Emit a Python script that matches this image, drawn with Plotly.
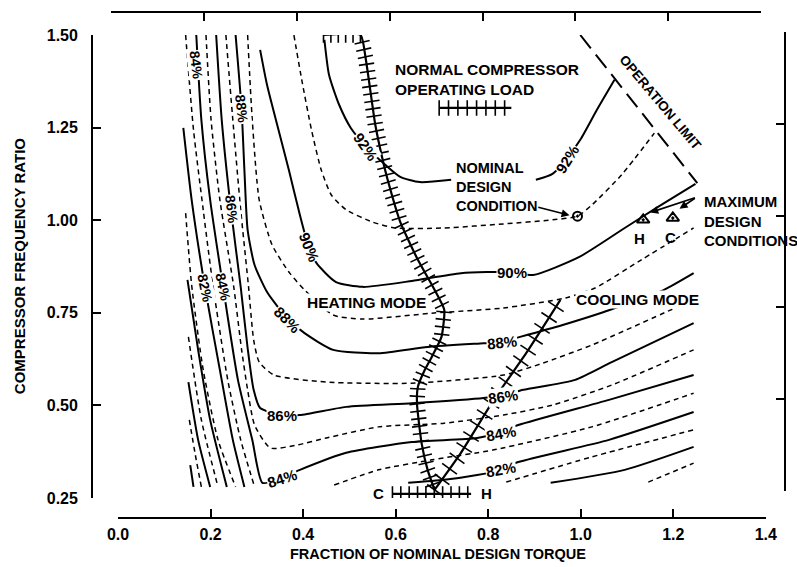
import math
import plotly.graph_objects as go

# ---------------- data ----------------
x_ticks = [0.0, 0.2, 0.4, 0.6, 0.8, 1.0, 1.2, 1.4]
x_ticktext = ["0.0", "0.2", "0.4", "0.6", "0.8", "1.0", "1.2", "1.4"]
y_ticks = [0.25, 0.50, 0.75, 1.00, 1.25, 1.50]
y_ticktext = ["0.25", "0.50", "0.75", "1.00", "1.25", "1.50"]

# efficiency contour lines (fraction of torque, frequency ratio); None = gap
eff76_x = [0.156, 0.163]
eff76_y = [0.339, 0.280]
eff77_x = [0.154, 0.167, 0.180]
eff77_y = [0.461, 0.366, 0.280]
eff78_x = [0.152, 0.173, 0.199]
eff78_y = [0.563, 0.407, 0.280]
eff79_x = [0.152, 0.180, 0.216, None, 1.146, 1.244]
eff79_y = [0.685, 0.461, 0.280, None, 0.293, 0.344]
eff80_x = [0.150, 0.173, 0.199, 0.235, None, 0.935, 1.095, 1.244]
eff80_y = [0.839, 0.650, 0.461, 0.280, None, 0.291, 0.326, 0.388]
eff81_x = [0.146, 0.159, 0.184, 0.216, 0.254, None, 0.839, 1.024, 1.244]
eff81_y = [1.019, 0.825, 0.596, 0.407, 0.280, None, 0.293, 0.361, 0.434]
eff82_x = [0.141, 0.159, 0.188, 0.220, 0.248, 0.273, None,
           0.627, 0.705, 0.776, 0.827, 0.865, 1.061, 1.244]
eff82_y = [1.249, 1.055, 0.817, 0.596, 0.407, 0.280, None,
           0.291, 0.299, 0.312, 0.326, 0.347, 0.407, 0.482]
eff83_x = [0.146, 0.163, 0.184, 0.205, 0.237, 0.265, 0.295, None,
           0.467, 0.563, 0.678, 0.812, 1.024, 1.244]
eff83_y = [1.500, 1.244, 1.028, 0.825, 0.569, 0.407, 0.280, None,
           0.285, 0.326, 0.353, 0.380, 0.442, 0.533]
eff84_x = [0.169, 0.180, 0.199, 0.227, 0.259, 0.290, 0.312, 0.344, 0.393,
           0.493, 0.635, 0.776, 0.827, 0.865, 1.061, 1.244]
eff84_y = [1.500, 1.271, 1.055, 0.820, 0.569, 0.407, 0.291, 0.299, 0.326,
           0.372, 0.401, 0.412, 0.428, 0.447, 0.515, 0.582]
eff85_x = [0.190, 0.201, 0.220, 0.250, 0.267, 0.280, 0.295, 0.329, 0.386,
           0.450, 0.563, 0.705, 0.833, 0.939, 1.067, 1.244]
eff85_y = [1.500, 1.271, 1.055, 0.820, 0.650, 0.542, 0.447, 0.385, 0.393,
           0.412, 0.442, 0.452, 0.474, 0.501, 0.555, 0.650]
eff86_x = [0.212, 0.224, 0.244, 0.265, 0.280, 0.293, 0.307, 0.354, 0.393,
           0.493, 0.635, 0.790, 0.833, 0.876, 0.988, 1.067, 1.244]
eff86_y = [1.500, 1.271, 1.028, 0.820, 0.655, 0.542, 0.493, 0.474, 0.474,
           0.496, 0.506, 0.520, 0.528, 0.542, 0.569, 0.617, 0.722]
eff87_x = [0.233, 0.248, 0.265, 0.282, 0.293, 0.305, 0.337, 0.450, 0.635,
           0.833, 0.918, 1.024, 1.195, 1.244]
eff87_y = [1.500, 1.271, 1.028, 0.820, 0.677, 0.617, 0.582, 0.563, 0.560,
           0.582, 0.614, 0.663, 0.758, 0.785]
eff88_x = [0.254, 0.267, 0.273, 0.280, 0.295, 0.322, 0.344, 0.365, 0.403,
           0.465, 0.563, 0.669, 0.790, 0.827, 0.869, 0.961, 1.050, 1.110,
           1.180, 1.244]
eff88_y = [1.500, 1.298, 1.136, 0.974, 0.879, 0.806, 0.768, 0.736, 0.695,
           0.650, 0.641, 0.658, 0.668, 0.671, 0.685, 0.717, 0.752, 0.779,
           0.812, 0.857]
eff89_x = [0.280, 0.290, 0.305, 0.333, 0.371, 0.403, 0.465, 0.529, 0.678,
           0.833, 0.967, 1.031, 1.131, 1.244]
eff89_y = [1.500, 1.271, 1.055, 0.933, 0.857, 0.812, 0.744, 0.733, 0.749,
           0.763, 0.790, 0.817, 0.893, 0.979]
eff90_x = [0.307, 0.322, 0.344, 0.369, 0.393, 0.412, 0.429, 0.471, 0.529,
           0.635, 0.741, 0.850, 0.897, 0.997, 1.095, 1.167, 1.248]
eff90_y = [1.460, 1.365, 1.257, 1.136, 1.014, 0.928, 0.884, 0.833, 0.820,
           0.836, 0.857, 0.860, 0.852, 0.901, 0.979, 1.036, 1.098]
eff91_x = [0.380, 0.397, 0.418, 0.439, 0.461, 0.493, 0.550, 0.599, 0.705,
           0.833, 0.939, 0.993, 1.024, 1.088, 1.159]
eff91_y = [1.500, 1.379, 1.244, 1.136, 1.068, 1.028, 0.995, 0.979, 0.979,
           0.990, 1.001, 1.011, 1.041, 1.122, 1.235]
eff92_x = [0.446, 0.456, 0.478, 0.503, 0.535, 0.578, 0.610, 0.652, 0.720,
           None, 0.903, 0.939, 0.969, 0.999, 1.035, 1.073]
eff92_y = [1.487, 1.392, 1.311, 1.249, 1.200, 1.149, 1.117, 1.103, 1.109,
           None, 1.109, 1.125, 1.165, 1.217, 1.298, 1.379]

contours = [
    (76, eff76_x, eff76_y), (77, eff77_x, eff77_y), (78, eff78_x, eff78_y),
    (79, eff79_x, eff79_y), (80, eff80_x, eff80_y), (81, eff81_x, eff81_y),
    (82, eff82_x, eff82_y), (83, eff83_x, eff83_y), (84, eff84_x, eff84_y),
    (85, eff85_x, eff85_y), (86, eff86_x, eff86_y), (87, eff87_x, eff87_y),
    (88, eff88_x, eff88_y), (89, eff89_x, eff89_y), (90, eff90_x, eff90_y),
    (91, eff91_x, eff91_y), (92, eff92_x, eff92_y),
]

# contour labels
label_text = ["84%", "88%", "86%", "82%", "84%", "90%", "92%", "88%", "86%",
              "84%", "90%", "92%", "88%", "86%", "84%", "82%"]
label_x = [0.169, 0.267, 0.246, 0.188, 0.227, 0.412, 0.535, 0.365, 0.354,
           0.354, 0.851, 0.970, 0.829, 0.833, 0.827, 0.827]
label_y = [1.419, 1.300, 1.028, 0.817, 0.820, 0.928, 1.200, 0.731, 0.474,
           0.304, 0.858, 1.165, 0.671, 0.525, 0.425, 0.326]
label_angle = [83, 83, 83, 78, 78, 68, 55, 45, 0, -18, 0, -58, -6, -8, -10, -10]

# operating lines
heating_x = [0.444, 0.524, 0.535, 0.556, 0.571, 0.584, 0.610, 0.648, 0.684,
             0.705, 0.699, 0.678, 0.663, 0.648, 0.646, 0.656, 0.669, 0.684]
heating_y = [1.500, 1.500, 1.438, 1.257, 1.168, 1.103, 0.995, 0.893, 0.812,
             0.758, 0.685, 0.631, 0.596, 0.550, 0.506, 0.398, 0.326, 0.272]
cooling_x = [0.684, 0.741, 0.812, 0.882, 0.956]
cooling_y = [0.272, 0.372, 0.515, 0.641, 0.785]
ch_band_x = [0.593, 0.763]
ch_band_y = [0.261, 0.261]
load_key_x = [0.694, 0.850]
load_key_y = [1.303, 1.303]
oplimit_x = [0.999, 1.252]
oplimit_y = [1.500, 1.100]
nominal_x = [0.993]
nominal_y = [1.011]
maxdesign_x = [1.135, 1.199]
maxdesign_y = [1.001, 1.006]

# ---------------- layout geometry ----------------
W, H = 797, 567
ML, MR, MT, MB = 92, 1, 12, 49
PW, PH = W - ML - MR, H - MT - MB


def fx(px):
    return (px - ML) / PW


def fy(py):
    return (H - MB - py) / PH


xdom = [fx(118.5), fx(776.5)]
x2dom = [fx(111), fx(772)]
ydom = [fy(498), fy(35)]
y2dom = [fy(491), fy(32)]
XR = [0.0, 1.4]
YR = [0.25, 1.5]
SX = PW * (xdom[1] - xdom[0]) / (XR[1] - XR[0])
SY = PH * (ydom[1] - ydom[0]) / (YR[1] - YR[0])

FONT = "Liberation Sans, Arial, Helvetica, sans-serif"


def hatch(xs, ys, step, offset=0.0):
    """Positions/angles of perpendicular hatch marks along a polyline."""
    ox, oy, oa = [], [], []
    carry = offset
    for i in range(len(xs) - 1):
        dx = (xs[i + 1] - xs[i]) * SX
        dy = -(ys[i + 1] - ys[i]) * SY
        L = math.hypot(dx, dy)
        if L == 0:
            continue
        a = math.degrees(math.atan2(dy, dx))
        d = carry
        while d <= L:
            t = d / L
            ox.append(xs[i] + t * (xs[i + 1] - xs[i]))
            oy.append(ys[i] + t * (ys[i + 1] - ys[i]))
            oa.append(a)
            d += step
        carry = d - L
    return ox, oy, oa


fig = go.Figure()

for lev, xs, ys in contours:
    solid = lev % 2 == 0
    fig.add_trace(go.Scatter(
        x=xs, y=ys, mode="lines", hoverinfo="skip", showlegend=False,
        line=dict(color="black", width=2.0 if solid else 1.5,
                  dash="solid" if solid else "5px,4px",
                  shape="spline", smoothing=0.6)))

# operation limit
fig.add_trace(go.Scatter(x=oplimit_x, y=oplimit_y, mode="lines", hoverinfo="skip",
                         showlegend=False,
                         line=dict(color="black", width=2, dash="17px,8px")))

# hatched operating lines
for xs, ys, step, size, shape in [
    (heating_x, heating_y, 7.5, 11, "spline"),
    (cooling_x, cooling_y, 13.0, 13, "spline"),
    (ch_band_x, ch_band_y, 8.5, 11, "linear"),
    (load_key_x, load_key_y, 9.5, 11, "linear"),
]:
    fig.add_trace(go.Scatter(x=xs, y=ys, mode="lines", hoverinfo="skip",
                             showlegend=False,
                             line=dict(color="black", width=2.2, shape=shape,
                                       smoothing=0.5)))
    hx, hy, ha = hatch(xs, ys, step)
    fig.add_trace(go.Scatter(x=hx, y=hy, mode="markers", hoverinfo="skip",
                             showlegend=False,
                             marker=dict(symbol="line-ns", size=size, angle=ha,
                                         color="black",
                                         line=dict(color="black", width=1.6))))

# design points
fig.add_trace(go.Scatter(x=nominal_x, y=nominal_y, mode="markers", hoverinfo="skip",
                         showlegend=False,
                         marker=dict(symbol="circle-open-dot", size=9, color="black",
                                     line=dict(color="black", width=2))))
fig.add_trace(go.Scatter(x=maxdesign_x, y=maxdesign_y, mode="markers",
                         hoverinfo="skip", showlegend=False,
                         marker=dict(symbol="triangle-up-open-dot", size=11,
                                     color="black",
                                     line=dict(color="black", width=2))))

# dummy trace for the frame axes
fig.add_trace(go.Scatter(x=[], y=[], xaxis="x2", yaxis="y2", showlegend=False,
                         hoverinfo="skip"))

ann = []
for t, x, y, a in zip(label_text, label_x, label_y, label_angle):
    ann.append(dict(x=x, y=y, xref="x", yref="y", text=t, showarrow=False,
                    textangle=a, bgcolor="white", borderpad=0,
                    font=dict(family=FONT, size=15 if abs(a) < 75 else 14,
                              color="black", weight="bold")))


def txt(x, y, t, size=15, xanchor="center", align="center", angle=0, bg=None):
    d = dict(x=x, y=y, xref="x", yref="y", text=t, showarrow=False,
             xanchor=xanchor, yanchor="middle", align=align, textangle=angle,
             font=dict(family=FONT, size=size, color="black", weight="bold"))
    if bg:
        d["bgcolor"] = bg
        d["borderpad"] = 0
    return d


ann += [
    txt(0.595, 1.379, "NORMAL COMPRESSOR<br>OPERATING LOAD", 15.5, "left", "left"),
    txt(0.727, 1.090, "NOMINAL<br>DESIGN<br>CONDITION", 14.5, "left", "left"),
    txt(1.263, 0.998, "MAXIMUM<br>DESIGN<br>CONDITIONS", 15, "left", "left"),
    txt(0.536, 0.779, "HEATING MODE", 15.5, bg="white"),
    txt(1.123, 0.785, "COOLING MODE", 15.5, bg="white"),
    txt(1.172, 1.318, "OPERATION LIMIT", 13.5, angle=50),
    txt(0.563, 0.261, "C", 15),
    txt(0.797, 0.261, "H", 15),
    txt(1.127, 0.950, "H", 15),
    txt(1.195, 0.953, "C", 15),
]

# arrows
arrow_style = dict(showarrow=True, arrowhead=2, arrowsize=1, arrowwidth=1.6,
                   arrowcolor="black", text="", xref="x", yref="y",
                   axref="x", ayref="y", standoff=2)
ann.append(dict(x=0.980, y=1.012, ax=0.905, ay=1.036, **arrow_style))
ann.append(dict(x=1.146, y=1.019, ax=1.250, ay=1.062, **arrow_style))
ann.append(dict(x=1.210, y=1.028, ax=1.250, ay=1.062, **arrow_style))

# axis titles
ann.append(dict(x=fx(443), y=fy(554), xref="paper", yref="paper",
                xanchor="center", yanchor="middle",
                text="FRACTION OF NOMINAL DESIGN TORQUE", showarrow=False,
                font=dict(family=FONT, size=14.5, color="black", weight="bold")))
ann.append(dict(x=fx(18), y=fy(266), xref="paper", yref="paper",
                xanchor="center", yanchor="middle",
                text="COMPRESSOR FREQUENCY RATIO", showarrow=False, textangle=-90,
                font=dict(family=FONT, size=15, color="black", weight="bold")))

axis_common = dict(showgrid=False, zeroline=False, showline=True, linecolor="black",
                   linewidth=1.8, ticks="inside", ticklen=8, tickwidth=1.6,
                   tickcolor="black", fixedrange=True)
tickfont = dict(family=FONT, size=16, color="black", weight="bold")

fig.update_layout(
    width=W, height=H,
    margin=dict(l=ML, r=MR, t=MT, b=MB, pad=0),
    paper_bgcolor="white", plot_bgcolor="rgba(0,0,0,0)",
    showlegend=False,
    xaxis=dict(domain=xdom, range=XR, anchor="free", position=0,
               tickvals=x_ticks, ticktext=x_ticktext, tickfont=tickfont,
               ticklabelstandoff=2, **axis_common),
    yaxis=dict(domain=ydom, range=YR, anchor="free", position=0,
               tickvals=y_ticks, ticktext=y_ticktext, tickfont=tickfont,
               ticklabelstandoff=10, **axis_common),
    xaxis2=dict(domain=x2dom, range=XR, anchor="free", position=1, side="top",
                tickvals=x_ticks, showticklabels=False, **axis_common),
    yaxis2=dict(domain=y2dom, range=YR, anchor="free", position=1, side="right",
                tickvals=y_ticks, showticklabels=False, **axis_common),
    annotations=ann,
)

fig.write_html("out.html")
